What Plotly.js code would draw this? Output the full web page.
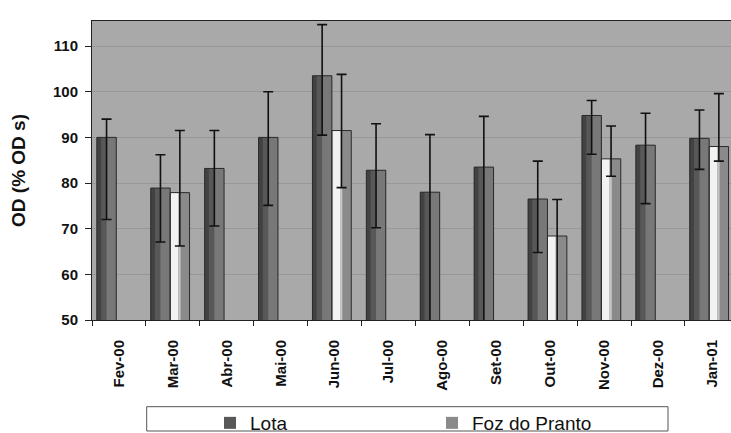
<!DOCTYPE html>
<html><head><meta charset="utf-8">
<script src="https://cdn.plot.ly/plotly-3.0.1.min.js"></script>
<style>html,body{margin:0;padding:0;overflow:hidden;background:#fff}</style>
</head><body><div id="chart"></div>
<script>
// ---- data ----
const months = ['Fev-00','Mar-00','Abr-00','Mai-00','Jun-00','Jul-00','Ago-00','Set-00','Out-00','Nov-00','Dez-00','Jan-01'];
const lota = [90.0, 78.9, 83.2, 90.0, 103.5, 82.8, 78.0, 83.5, 76.5, 94.8, 88.3, 89.8];
const lotaErrPlus = [4.0, 7.3, 8.3, 10.0, 11.2, 10.2, 12.6, 11.1, 8.3, 3.3, 7.0, 6.2];
const lotaErrMinus = [18.0, 11.8, 12.6, 14.9, 13.0, 12.6, 35.0, 40.0, 11.7, 8.5, 12.8, 6.8];
const foz = [null, 77.9, null, null, 91.5, null, null, null, 68.4, 85.3, null, 88.0];
const fozErrPlus = [null, 13.6, null, null, 12.3, null, null, null, 8.0, 7.2, null, 11.6];
const fozErrMinus = [null, 11.7, null, null, 12.5, null, null, null, 30.0, 3.8, null, 3.2];
const seriesNames = ['Lota', 'Foz do Pranto'];
const yTicks = [50, 60, 70, 80, 90, 100, 110];

// ---- styling ----
const FONT = '"Liberation Sans", Arial, sans-serif';
const W = 0.36, OFF_L = -0.41, OFF_F = -0.05;

function bar(y, off, w, color, name, showlegend) {
  return {type:'bar', x:months, y:y, offset:off, width:w, name:name||'',
    showlegend:!!showlegend, marker:{color:color, line:{width:0}}, hoverinfo:'skip'};
}
function carrier(y, off, plus, minus) {
  return {type:'bar', x:months, y:y, offset:off, width:W, showlegend:false, hoverinfo:'skip',
    marker:{color:'rgba(0,0,0,0)', line:{color:'#2a2a2a', width:1}},
    error_y:{type:'data', symmetric:false, array:plus, arrayminus:minus,
      color:'#111', thickness:1.6, width:5}};
}

const traces = [
  bar(lota, OFF_L, W, '#585858', seriesNames[0], true),
  bar(lota, OFF_L + W*0.5, W*0.5, '#787878'),
  bar(lota, OFF_L, W*0.22, '#424242'),
  bar(foz, OFF_F, W, '#8a8a8a', seriesNames[1], true),
  bar(foz, OFF_F, W*0.42, '#f2f2f2'),
  bar(foz, OFF_F + W*0.42, W*0.12, '#c4c4c4'),
  carrier(lota, OFF_L, lotaErrPlus, lotaErrMinus),
  carrier(foz, OFF_F, fozErrPlus, fozErrMinus)
];

const L = 92, PW = 731 - L, T = 21, PH = 299, CAT = 53.9;
const px = v => (v - L) / PW;
const py = v => (T + PH - v) / PH;

const layout = {
  width: 731, height: 433,
  margin: {l: L, r: 0, t: T, b: 433 - T - PH, autoexpand: false},
  paper_bgcolor: '#ffffff', plot_bgcolor: '#a9a9a9',
  barmode: 'overlay',
  font: {family: FONT, color: '#111'},
  xaxis: {type:'category', range:[-0.5, -0.5 + PW / CAT], tickson:'boundaries', ticks:'outside', ticklen:5,
    tickcolor:'#222', showline:true, linecolor:'#222', linewidth:1, mirror:true,
    tickangle:-90, ticklabelstandoff:13, showgrid:false, automargin:false,
    tickfont:{family:FONT, size:15, weight:'bold', color:'#111'}},
  yaxis: {range:[50, 115.5], tickvals:yTicks, ticks:'outside', ticklen:6, tickcolor:'#222',
    showline:true, linecolor:'#222', linewidth:1, mirror:false, zeroline:false, automargin:false,
    ticklabelstandoff:4,
    showgrid:true, gridcolor:'rgba(80,80,80,0.2)', gridwidth:1,
    tickfont:{family:FONT, size:15, weight:'bold', color:'#111'},
    title:{text:'OD (% OD s)', standoff:22, font:{family:FONT, size:19, weight:'bold', color:'#111'}}},
  legend: {orientation:'h', x: px(210), xanchor:'left', y: py(423), yanchor:'middle',
    bgcolor:'rgba(0,0,0,0)', borderwidth:0, entrywidth:177, entrywidthmode:'pixels',
    font:{family:FONT, size:19, color:'#111'}, traceorder:'normal'},
  shapes: [{type:'rect', xref:'paper', yref:'paper', x0:px(146.7), x1:px(668), y0:py(431), y1:py(406.7),
    line:{color:'#555', width:1}, fillcolor:'rgba(0,0,0,0)'}],
  showlegend: true, hovermode: false
};

Plotly.newPlot('chart', traces, layout, {displayModeBar:false, staticPlot:true});
</script></body></html>
